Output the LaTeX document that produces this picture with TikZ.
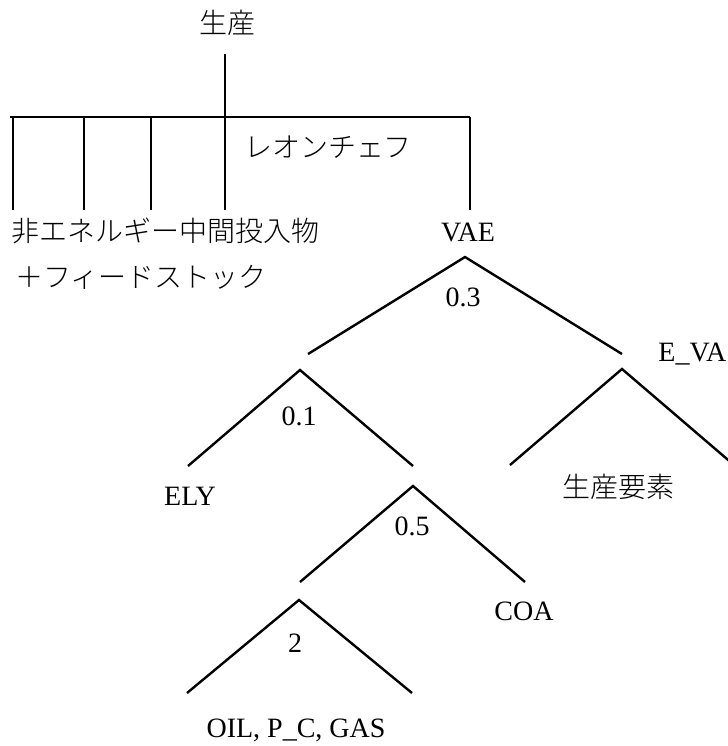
\documentclass[tikz,border=0pt]{standalone}
\usepackage{fontspec}
\setmainfont{Liberation Serif}
\IfFontExistsTF{Noto Sans CJK JP Light}
  {\newfontfamily\jpfont{Noto Sans CJK JP Light}}
  {\newfontfamily\jpfont{Noto Sans CJK JP}}
\begin{document}
\begin{tikzpicture}[x=0.5pt,y=-0.5pt,
  treeline/.style={line width=1.2pt, line cap=butt},
  lat/.style={inner sep=0pt, font=\fontsize{14pt}{16pt}\selectfont},
  jp/.style={inner sep=0pt, font=\fontsize{14pt}{16pt}\selectfont\jpfont}]
\useasboundingbox (0,0) rectangle (728,746);
\clip (0,0) rectangle (728,746);
% top
\node[jp] (seisan) at (227,23) {生産};
\coordinate (top) at (225,54);
\coordinate (hub) at (225,117);
\coordinate (hl) at (10,117);
\coordinate (hr) at (470,117);
\draw[treeline] (top) -- (hub);
\draw[treeline] (hl) -- (hr);
\foreach \xx/\nm in {13/a,84/b,151/c,225/d,470/e}{
  \coordinate (u\nm) at (\xx,117);
  \coordinate (d\nm) at (\xx,210);
  \draw[treeline] (u\nm) -- (d\nm);
}
\node[jp] (leon) at (328,147) {レオンチェフ};
\node[jp, anchor=west] (nonen) at (11,231) {非エネルギー中間投入物};
\node[jp, anchor=west] (feed) at (15,277) {＋フィードストック};
\node[lat] (vae) at (468,232) {VAE};
% Triangle A
\coordinate (aA) at (465,257);
\coordinate (lA) at (308,354);
\coordinate (rA) at (622,354);
\draw[treeline] (lA) -- (aA) -- (rA);
\node[lat] (e03) at (463,297) {0.3};
\node[lat, anchor=west] (eva) at (658,354) {E\_VA};
% Triangle B
\coordinate (aB) at (300,370);
\coordinate (lB) at (188,466);
\coordinate (rB) at (413,466);
\draw[treeline] (lB) -- (aB) -- (rB);
\node[lat] (e01) at (299,416) {0.1};
\node[lat] (ely) at (190,496) {ELY};
% Triangle C
\coordinate (aC) at (622,369);
\coordinate (lC) at (510,465);
\coordinate (rC) at (734,465);
\draw[treeline] (lC) -- (aC) -- (rC);
\node[jp] (yoso) at (618,487) {生産要素};
% Triangle D
\coordinate (aD) at (413,486);
\coordinate (lD) at (300,582);
\coordinate (rD) at (525,582);
\draw[treeline] (lD) -- (aD) -- (rD);
\node[lat] (e05) at (412,526) {0.5};
\node[lat] (coa) at (524,611) {COA};
% Triangle E
\coordinate (aE) at (299,600);
\coordinate (lE) at (187,693);
\coordinate (rE) at (412,693);
\draw[treeline] (lE) -- (aE) -- (rE);
\node[lat] (e2) at (295,643) {2};
\node[lat] (oil) at (296,730) {OIL, P\_C, GAS};
\end{tikzpicture}
\end{document}
